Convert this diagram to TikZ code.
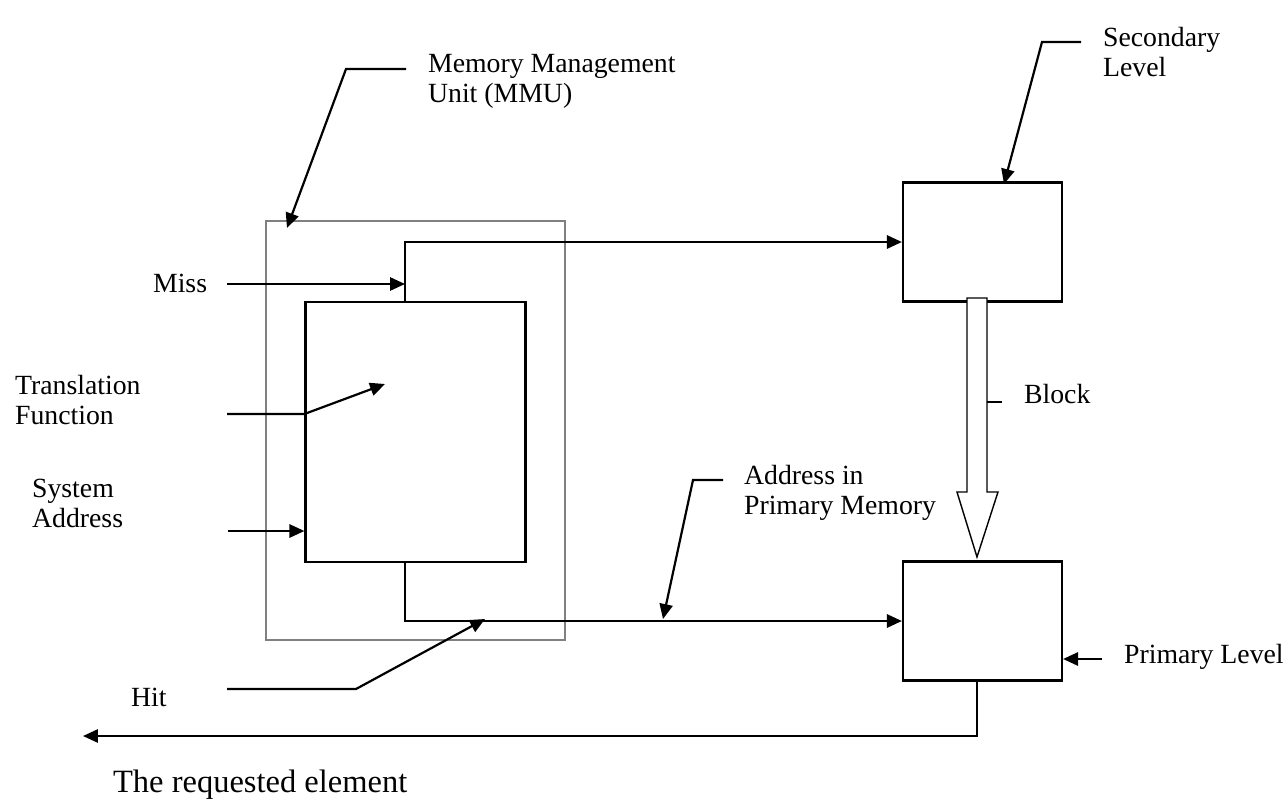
\documentclass[tikz,border=0pt]{standalone}
\usepackage{fontspec}
\setmainfont{Liberation Serif}
\usepackage{tikz}
\usetikzlibrary{positioning, arrows.meta, calc}
\definecolor{boxgray}{HTML}{808080}

\begin{document}
\begin{tikzpicture}[x=0.02cm, y=-0.02cm, line width=1.25pt,
    font=\fontsize{15.8pt}{17pt}\selectfont,
    unit/.style={draw, minimum width=4.4cm, minimum height=5.2cm, inner sep=0pt},
    level/.style={draw, minimum width=3.18cm, minimum height=2.38cm, inner sep=0pt},
    lbl/.style={inner sep=0pt, align=left},
    arr/.style={-{Triangle[length=8.5pt,width=7.5pt]}}]
  \useasboundingbox (0,0) rectangle (1286,799);

  % boxes
  \node[draw=boxgray, line width=0.8pt, minimum width=5.98cm, minimum height=8.38cm] (mmu) at (415.5,430.5) {};
  \node[unit] (trans) at (415.5,432) {};
  \node[level] (secondary) at (982.5,242) {};
  \node[level] (primary) at (982.5,621) {};

  % labels
  \node[lbl, anchor=north west] (mmulbl) at (427,53) {Memory Management\\Unit (MMU)};
  \node[lbl, anchor=north west] (seclbl) at (1102,26) {Secondary\\Level};
  \node[lbl, anchor=base west] (misslbl) at (152,292) {Miss};
  \node[lbl, anchor=north west] (translbl) at (14,374) {Translation\\Function};
  \node[lbl, anchor=north west] (syslbl) at (31,478) {System\\Address};
  \node[lbl, anchor=base west] (hitlbl) at (130,706) {Hit};
  \node[lbl, anchor=base west, font=\fontsize{18.5pt}{20pt}\selectfont] (reqlbl) at (112,792) {The requested element};
  \node[lbl, anchor=base west] (blocklbl) at (1023,403) {Block};
  \node[lbl, anchor=north west] (addrlbl) at (743,464) {Address in\\Primary Memory};
  \node[lbl, anchor=base west] (primlbl) at (1123,663) {Primary Level};

  % free ends
  \coordinate (misstop) at (405,242);
  \coordinate (missin) at (227,284);
  \coordinate (transin) at (227,414);
  \coordinate (transtip) at (385,384);
  \coordinate (sysin) at (228,531);
  \coordinate (hitin) at (227,689);
  \coordinate (hittip) at (485,619);
  \coordinate (retout) at (977,736);
  \coordinate (reqend) at (83,736);

  % miss / hit paths
  \draw[arr] (trans.north -| misstop) -- (misstop) -- (secondary.west);
  \draw[arr] (missin) -- (missin -| misstop);
  \draw[arr] (trans.south -| misstop) |- (primary.west);
  \draw[arr] (transin) -- (transin -| trans.west) -- (transtip);
  \draw[arr] (sysin) -- (sysin -| trans.west);
  \draw[arr] (hitin) -- (356,689) -- (hittip);
  \draw[arr] (primary.south -| retout) -- (retout) -- (reqend);
  \draw[arr] (1102,659) -- (primary.east |- 0,659);

  % block transfer
  \draw[fill=white, line width=0.8pt] (967,298) -- (967,492) -- (957,492) -- (977,557)
    -- (998,492) -- (987,492) -- (987,298) -- cycle;
  \draw[line width=0.8pt] (987,402) -- (1002,402);

  % leaders
  \draw[arr] (406,69) -- (346,69) -- (287,228);
  \draw[arr] (1081,42) -- (1042,42) -- (1004,184);
  \draw[arr] (723,480) -- (693,480) -- (663,619);
\end{tikzpicture}
\end{document}
